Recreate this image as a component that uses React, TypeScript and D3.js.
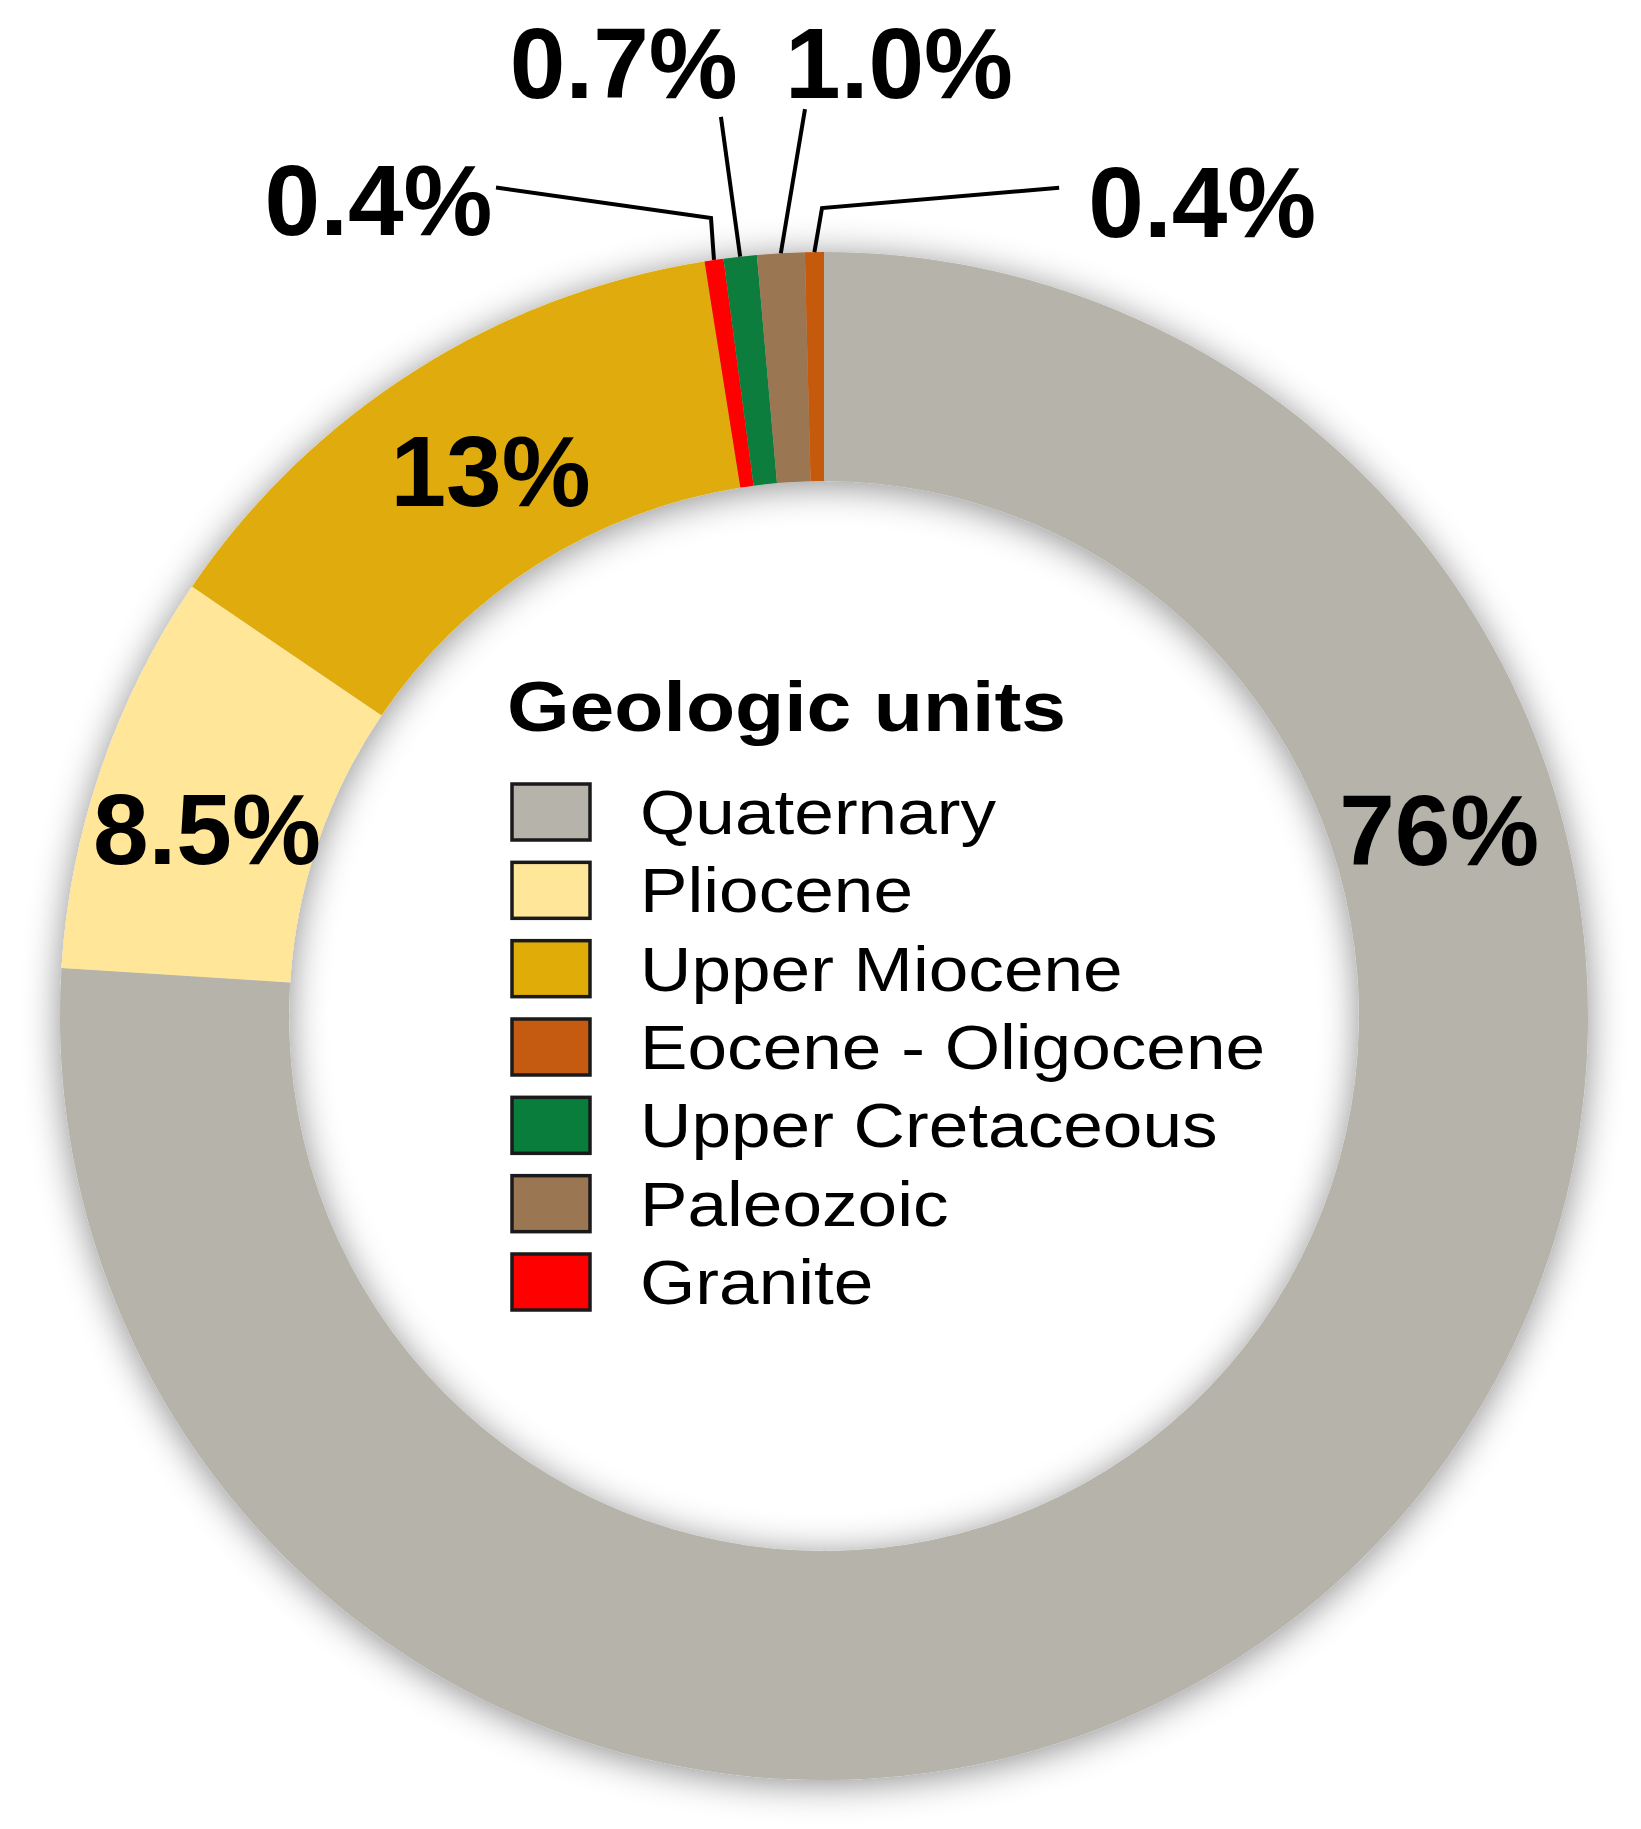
import React from "react";
import { arc, pie, scalePoint } from "d3";

const width = 1641;
const height = 1829;

// legend order
const units = [
  "Quaternary",
  "Pliocene",
  "Upper Miocene",
  "Eocene - Oligocene",
  "Upper Cretaceous",
  "Paleozoic",
  "Granite"
];
const unitColors = ["#b5b3aa", "#ffe699", "#e0ac08", "#c55a11", "#087d3c", "#9b7652", "#ff0000"];
const shares = [76, 8.5, 13, 0.4, 0.7, 1.0, 0.4];
const shareLabels = ["76%", "8.5%", "13%", "0.4%", "0.7%", "1.0%", "0.4%"];

// how the slices run round the ring, clockwise from 12 o'clock
const ringOrder = [
  "Quaternary",
  "Pliocene",
  "Upper Miocene",
  "Granite",
  "Upper Cretaceous",
  "Paleozoic",
  "Eocene - Oligocene"
];

const center = { x: 824, y: 1016 };
const outerR = 764;
const innerR = 535;
const font = '"Liberation Sans", Arimo, Arial, sans-serif';

// label spots as [degrees clockwise from top, radius]
const labelSpots = {
  Quaternary: { text: [73.1, 643] },
  Pliocene: { text: [-73.1, 645] },
  "Upper Miocene": { text: [-31.4, 640] },
  Granite: { text: [-29.7, 899], leader: [[-8.06, 806], [-21.6, 891]] },
  "Upper Cretaceous": { text: [-12.3, 940], leader: [[-6.54, 905]] },
  Paleozoic: { text: [4.67, 921], leader: [[-1.2, 907]] },
  "Eocene - Oligocene": { text: [25.9, 866], leader: [[-0.14, 808], [15.85, 861]] }
};

const polar = (deg, r) => {
  const a = (deg * Math.PI) / 180;
  return [center.x + r * Math.sin(a), center.y - r * Math.cos(a)];
};

export default function App() {
  const rows = ringOrder.map(name => {
    const i = units.indexOf(name);
    return { name, value: shares[i], color: unitColors[i], label: shareLabels[i] };
  });

  const slices = pie()
    .value(d => d.value)
    .sort(null)
    .startAngle(0)
    .endAngle(2 * Math.PI)(rows);

  const ringArc = arc().innerRadius(innerR).outerRadius(outerR);

  const legendY = scalePoint().domain(units).range([812, 1282]);

  return (
    <svg
      width={width}
      height={height}
      viewBox={`0 0 ${width} ${height}`}
      style={{ position: "absolute", left: 0, top: 0, background: "#fff", fontFamily: font }}
    >
      <defs>
        <filter id="ringShadow" x="-20%" y="-20%" width="140%" height="140%">
          <feGaussianBlur in="SourceAlpha" stdDeviation="18" />
          <feOffset dx="0" dy="4" result="blur" />
          <feFlood floodColor="#000" floodOpacity="0.45" />
          <feComposite in2="blur" operator="in" />
          <feMerge>
            <feMergeNode />
            <feMergeNode in="SourceGraphic" />
          </feMerge>
        </filter>
      </defs>

      <g transform={`translate(${center.x},${center.y})`} filter="url(#ringShadow)">
        {slices.map(s => (
          <path key={s.data.name} d={ringArc(s)} fill={s.data.color} />
        ))}
      </g>

      {/* percentage labels */}
      {slices.map(s => {
        const spot = labelSpots[s.data.name];
        const [tx, ty] = polar(spot.text[0], spot.text[1]);
        if (!spot.leader) {
          return (
            <text
              key={s.data.name}
              x={tx}
              y={ty}
              dy="0.36em"
              textAnchor="middle"
              style={{ fontFamily: font, fontWeight: "bold", fontSize: 100 }}
              fill="#000"
            >
              {s.data.label}
            </text>
          );
        }
        const mid = ((s.startAngle + s.endAngle) / 2) * (180 / Math.PI);
        const pts = [polar(mid, outerR), ...spot.leader.map(p => polar(p[0], p[1]))];
        return (
          <g key={s.data.name}>
            <polyline
              points={pts.map(p => p.join(",")).join(" ")}
              fill="none"
              stroke="#000"
              strokeWidth={4}
              strokeLinejoin="miter"
            />
            <text
              x={tx}
              y={ty}
              textAnchor="middle"
              style={{ fontFamily: font, fontWeight: "bold", fontSize: 100 }}
              fill="#000"
            >
              {s.data.label}
            </text>
          </g>
        );
      })}

      {/* legend */}
      <g fill="#000">
        <text
          transform="translate(507,731) scale(1.15,1)"
          style={{ fontFamily: font, fontWeight: "bold", fontSize: 70 }}
        >
          Geologic units
        </text>
        {units.map((u, i) => (
          <g key={u}>
            <rect
              x={512}
              y={legendY(u) - 28}
              width={78}
              height={56}
              fill={unitColors[i]}
              stroke="#1a1a1a"
              strokeWidth={3.5}
            />
            <text
              transform={`translate(640,${legendY(u) + 22}) scale(1.13,1)`}
              style={{ fontFamily: font, fontSize: 63 }}
            >
              {u}
            </text>
          </g>
        ))}
      </g>
    </svg>
  );
}
